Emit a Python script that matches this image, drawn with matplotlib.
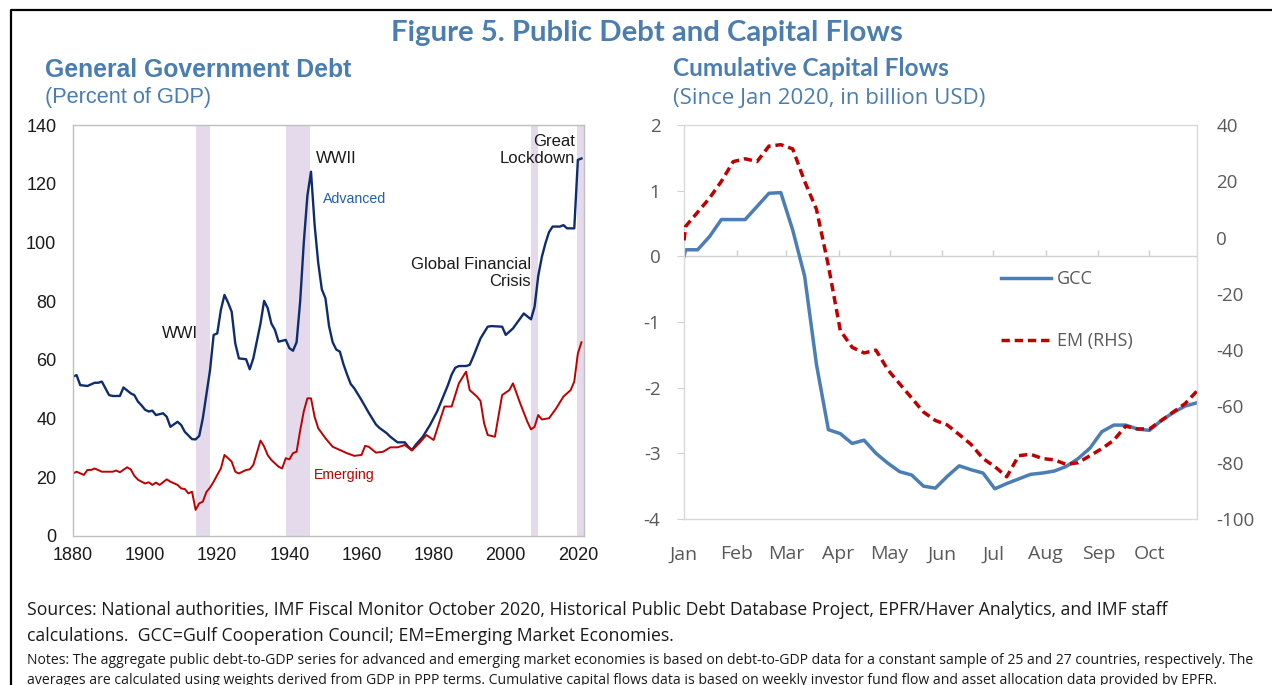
import numpy as np
import matplotlib.pyplot as plt
from matplotlib.lines import Line2D

plt.rcParams['axes.unicode_minus'] = False

# Left panel: general government debt (percent of GDP)
adv_years = [1880, 1881, 1882, 1884, 1886, 1887, 1888, 1890, 1891, 1893, 1894, 1896, 1897, 1898,
             1899, 1900, 1901, 1902, 1903, 1905, 1906, 1907, 1909, 1910, 1911, 1913, 1914, 1915,
             1916, 1918, 1919, 1920, 1921, 1922, 1923, 1924, 1925, 1926, 1928, 1929, 1930, 1932,
             1933, 1934, 1935, 1936, 1937, 1939, 1940, 1941, 1942, 1943, 1944, 1945, 1946, 1947,
             1948, 1949, 1950, 1951, 1952, 1953, 1954, 1955, 1956, 1957, 1958, 1959, 1960, 1962,
             1964, 1965, 1967, 1968, 1970, 1972, 1973, 1974, 1975, 1977, 1979, 1981, 1983, 1984,
             1985, 1986, 1987, 1989, 1990, 1991, 1993, 1995, 1996, 1999, 2000, 2002, 2004, 2005,
             2007, 2008, 2009, 2010, 2011, 2012, 2013, 2015, 2016, 2017, 2019, 2020, 2021]
advanced = [54.3, 54.8, 51.4, 51.1, 52.2, 52.2, 52.6, 48.0, 47.7, 47.7, 50.6, 48.6, 48.0, 45.8,
            44.5, 43.0, 42.4, 42.7, 41.2, 41.8, 40.6, 37.2, 38.9, 37.8, 35.5, 33.0, 32.9, 34.1,
            40.1, 56.5, 68.5, 69.0, 77.0, 82.1, 79.5, 76.4, 65.6, 60.5, 60.2, 56.8, 60.5, 72.4,
            80.1, 77.6, 72.4, 70.2, 66.2, 66.8, 64.0, 63.1, 66.0, 80.0, 100.0, 116.0, 124.1, 106.0,
            93.0, 84.0, 81.0, 71.5, 66.0, 63.5, 62.8, 58.5, 55.0, 51.8, 50.3, 48.3, 46.3, 42.0,
            38.0, 36.8, 35.0, 33.8, 31.9, 31.9, 30.4, 29.3, 31.0, 33.8, 37.8, 42.5, 48.5, 51.5,
            55.0, 57.3, 57.9, 57.9, 58.3, 61.1, 67.3, 71.3, 71.5, 71.3, 68.5, 70.7, 74.1, 75.8,
            73.8, 78.1, 88.5, 95.0, 99.7, 103.5, 105.4, 105.4, 105.9, 104.8, 104.8, 128.1, 128.6]

emg_years = [1880, 1881, 1883, 1884, 1885, 1886, 1888, 1889, 1891, 1892, 1893, 1895, 1896, 1897,
             1898, 1899, 1900, 1901, 1902, 1903, 1904, 1906, 1907, 1909, 1910, 1911, 1912, 1913,
             1914, 1915, 1916, 1917, 1918, 1919, 1920, 1921, 1922, 1923, 1924, 1925, 1926, 1928,
             1929, 1930, 1932, 1933, 1934, 1935, 1937, 1938, 1939, 1940, 1941, 1942, 1943, 1944,
             1945, 1946, 1947, 1948, 1950, 1952, 1954, 1956, 1958, 1960, 1961, 1962, 1964, 1966,
             1968, 1970, 1972, 1974, 1976, 1978, 1980, 1983, 1985, 1987, 1989, 1990, 1992, 1993,
             1994, 1995, 1997, 1999, 2001, 2002, 2004, 2006, 2007, 2008, 2009, 2010, 2012, 2014,
             2016, 2018, 2019, 2020, 2021]
emerging = [21.3, 21.9, 20.8, 22.5, 22.5, 23.0, 21.9, 21.9, 21.9, 22.3, 21.7, 23.4, 22.7, 20.5,
            19.2, 18.5, 17.9, 18.3, 17.4, 18.2, 17.4, 19.3, 18.5, 17.4, 16.2, 16.0, 14.5, 15.1,
            8.9, 11.1, 11.7, 15.0, 16.5, 18.5, 20.8, 23.0, 27.6, 26.5, 25.3, 21.9, 21.3, 22.5,
            22.7, 24.2, 32.5, 30.5, 27.5, 25.9, 23.6, 23.0, 26.5, 26.1, 28.2, 28.7, 36.0, 42.5,
            46.9, 46.9, 40.6, 36.7, 33.3, 30.4, 29.3, 28.2, 27.3, 27.6, 30.7, 30.4, 28.4, 28.7,
            30.2, 30.2, 31.0, 29.1, 31.6, 34.4, 32.7, 44.1, 44.1, 52.0, 56.0, 49.7, 47.5, 46.0,
            38.4, 34.4, 33.8, 48.0, 49.7, 52.0, 45.2, 38.9, 36.3, 37.2, 41.2, 39.7, 40.1, 43.5,
            47.5, 49.7, 52.6, 62.2, 66.0]

# crisis episodes (start, end year)
band_start = [1914, 1939, 2007, 2019.7]
band_end = [1918, 1945.7, 2009, 2021.7]

# Right panel: cumulative capital flows since Jan 2020 (days since Jan 1)
flow_days = [0, 1, 8, 15, 22, 29, 36, 43, 50, 57, 64, 71, 78, 85, 92, 99, 106, 113, 120, 127,
             134, 141, 148, 155, 162, 169, 176, 183, 190, 197, 204, 211, 218, 225, 232, 239, 246,
             253, 260, 267, 274, 281, 288, 295, 302]
gcc = [0.0, 0.1, 0.1, 0.3, 0.56, 0.56, 0.56, 0.76, 0.96, 0.97, 0.4, -0.3, -1.65, -2.64, -2.7,
       -2.85, -2.8, -3.0, -3.15, -3.28, -3.33, -3.5, -3.53, -3.35, -3.19, -3.25, -3.3, -3.54,
       -3.46, -3.39, -3.32, -3.3, -3.27, -3.2, -3.08, -2.92, -2.67, -2.57, -2.57, -2.63, -2.65,
       -2.5, -2.38, -2.28, -2.23]
em = [-1, 4, 9, 14, 20, 27, 28, 27, 32.5, 33, 31.5, 20, 10, -10, -33, -39, -41, -40, -47, -52,
      -57, -62, -65, -66.6, -70, -73.5, -78.5, -81.4, -85, -77.5, -77, -78.5, -79, -80.6, -80,
      -77.5, -75, -72, -67, -68, -68, -65, -62, -59, -54.5]

month_start = [0, 31, 60, 91, 121, 152, 182, 213, 244, 274]
month_names = ['Jan', 'Feb', 'Mar', 'Apr', 'May', 'Jun', 'Jul', 'Aug', 'Sep', 'Oct']

blue_title = '#4A7DB0'
grey_txt = '#595959'

fig = plt.figure(figsize=(12.72, 6.85), dpi=100)

# ---- left chart
ax1 = fig.add_axes([73 / 1272, 1 - 536 / 685, 511 / 1272, 411 / 685])
for s, e in zip(band_start, band_end):
    ax1.axvspan(s, e, color='#E4DAEC', lw=0, zorder=0)
ax1.plot(adv_years, advanced, color='#0F2D6E', lw=1.7)
ax1.plot(emg_years, emerging, color='#C00000', lw=1.4)
ax1.set_xlim(1880, 2021.7)
ax1.set_ylim(0, 140)
ax1.set_xticks(range(1880, 2021, 20))
ax1.set_yticks(range(0, 141, 20))
ax1.tick_params(length=0, labelsize=13, colors='#1a1a1a')
ax1.tick_params(axis='y', pad=12)
ax1.tick_params(axis='x', pad=8)
for lab in ax1.get_xticklabels() + ax1.get_yticklabels():
    lab.set_family('Liberation Sans')
for sp in ax1.spines.values():
    sp.set_color('#BFBFBF')
    sp.set_linewidth(1)

tf = dict(family='Liberation Sans', fontsize=12, color='#1a1a1a')
ax1.text(1914.6, 69, 'WWI', ha='right', va='center', **tf)
ax1.text(1947.3, 128.7, 'WWII', ha='left', va='center', **tf)
ax1.text(2007, 89.6, 'Global Financial\nCrisis', ha='right', va='center',
         multialignment='right', linespacing=1.15, **tf)
ax1.text(2019.3, 131.5, 'Great\nLockdown', ha='right', va='center',
         multialignment='right', linespacing=1.15, **tf)
ax1.text(1949.3, 114.8, 'Advanced', ha='left', va='center', family='Liberation Sans',
         fontsize=10.2, color='#1F5FAD')
ax1.text(1946.8, 20.8, 'Emerging', ha='left', va='center', family='Liberation Sans',
         fontsize=10.2, color='#C00000')

# ---- right chart
ax2 = fig.add_axes([684 / 1272, 1 - 519 / 685, 513 / 1272, 394 / 685])
ax2.plot(flow_days, gcc, color='#4A7EB5', lw=2.5, solid_joinstyle='round')
ax2.set_xlim(0, 302)
ax2.set_ylim(-4, 2)
ax2.set_yticks(range(-4, 3))
ax2.set_xticks(month_start)
ax2.set_xticklabels(month_names)
ax2.axhline(0, color='#D0D0D0', lw=1, zorder=1)
ax2.vlines(month_start[1:], 0, 0.1, color='#D0D0D0', lw=1, zorder=1)
ax2.tick_params(axis='x', length=0, pad=19, labelsize=14, colors=grey_txt)
ax2.tick_params(axis='y', length=5, width=0.8, color='#D0D0D0', pad=12, labelsize=13.5,
                colors=grey_txt)
for sp in ax2.spines.values():
    sp.set_color('#D9D9D9')
    sp.set_linewidth(1)

ax3 = ax2.twinx()
ax3.plot(flow_days, em, color='#C00000', lw=2.5, dashes=(2.4, 1.4))
ax3.set_ylim(-100, 40)
ax3.set_yticks(range(-100, 41, 20))
ax3.tick_params(axis='y', length=0, pad=14, labelsize=13.5, colors=grey_txt)
for sp in ax3.spines.values():
    sp.set_visible(False)
ax3.set_xlim(0, 302)

for a in (ax2, ax3):
    for lab in a.get_xticklabels() + a.get_yticklabels():
        lab.set_family('Open Sans')

handles = [Line2D([], [], color='#4A7EB5', lw=2.5),
           Line2D([], [], color='#C00000', lw=2.5, dashes=(2.4, 1.4))]
leg = ax3.legend(handles, ['GCC', 'EM (RHS)'], loc='upper left', bbox_to_anchor=(0.6, 0.655),
                 frameon=False, labelspacing=2.45, handlelength=2.8,
                 handletextpad=0.3, borderpad=0, prop={'family': 'Open Sans', 'size': 13})
for t in leg.get_texts():
    t.set_color(grey_txt)

# ---- titles
fig.text(647 / 1272, 1 - 33 / 685, 'Figure 5. Public Debt and Capital Flows', ha='center',
         va='center', family='Lato', fontweight='bold', fontsize=21.2, color=blue_title)
fig.text(45 / 1272, 1 - 70 / 685, 'General Government Debt', ha='left', va='center',
         family='Liberation Sans', fontweight='bold', fontsize=17.8, color=blue_title)
fig.text(45 / 1272, 1 - 98 / 685, '(Percent of GDP)', ha='left', va='center',
         family='Liberation Sans', fontsize=15.7, color=blue_title)
fig.text(673 / 1272, 1 - 68 / 685, 'Cumulative Capital Flows', ha='left', va='center',
         family='Lato', fontweight='bold', fontsize=17.6, color=blue_title)
fig.text(673 / 1272, 1 - 98 / 685, '(Since Jan 2020, in billion USD)', ha='left', va='center',
         family='Open Sans', fontsize=16, color=blue_title)

# ---- footnotes
fig.text(27 / 1272, 1 - 610 / 685,
         'Sources: National authorities, IMF Fiscal Monitor October 2020, Historical Public Debt '
         'Database Project, EPFR/Haver Analytics, and IMF staff',
         ha='left', va='center', family='Open Sans', fontsize=12.7, color='#1a1a1a')
fig.text(27 / 1272, 1 - 636 / 685,
         'calculations.  GCC=Gulf Cooperation Council; EM=Emerging Market Economies.',
         ha='left', va='center', family='Open Sans', fontsize=12.7, color='#1a1a1a')
fig.text(27 / 1272, 1 - 660 / 685,
         'Notes: The aggregate public debt-to-GDP series for advanced and emerging market economies '
         'is based on debt-to-GDP data for a constant sample of 25 and 27 countries, respectively. The',
         ha='left', va='center', family='Open Sans', fontsize=10.07, color='#1a1a1a')
fig.text(27 / 1272, 1 - 680 / 685,
         'averages are calculated using weights derived from GDP in PPP terms. Cumulative capital '
         'flows data is based on weekly investor fund flow and asset allocation data provided by EPFR.',
         ha='left', va='center', family='Open Sans', fontsize=10.07, color='#1a1a1a')

# outer border (top and left)
fig.add_artist(Line2D([11 / 1272, 11 / 1272, 1], [0, 1 - 10 / 685, 1 - 10 / 685],
                      transform=fig.transFigure, color='black', lw=1.6))

fig.savefig('out.png', dpi=100)
